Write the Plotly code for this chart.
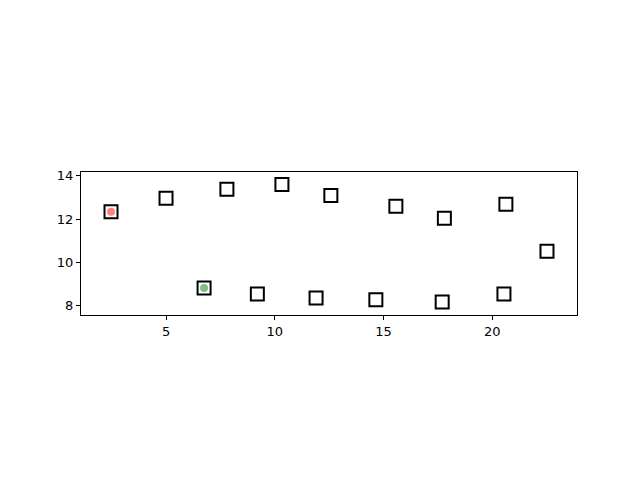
import plotly.graph_objects as go

xs = [2.47, 5.0, 7.8, 10.33, 12.58, 15.57, 17.8, 20.63, 22.52, 6.75, 9.2, 11.9, 14.65, 17.7, 20.54]
ys = [12.34, 12.97, 13.38, 13.6, 13.1, 12.6, 12.05, 12.69, 10.52, 8.83, 8.55, 8.37, 8.28, 8.18, 8.55]
red_x = [2.47]
red_y = [12.34]
green_x = [6.75]
green_y = [8.83]

fig = go.Figure()
fig.add_trace(go.Scatter(x=xs, y=ys, mode="markers",
                         marker=dict(symbol="square-open", size=13, color="black",
                                     line=dict(width=2, color="black"))))
fig.add_trace(go.Scatter(x=red_x, y=red_y, mode="markers",
                         marker=dict(symbol="circle", size=8, color="rgba(255,0,0,0.5)",
                                     line=dict(width=0))))
fig.add_trace(go.Scatter(x=green_x, y=green_y, mode="markers",
                         marker=dict(symbol="circle", size=8, color="rgba(0,128,0,0.5)",
                                     line=dict(width=0))))

axis_common = dict(showgrid=False, zeroline=False, showline=True, linecolor="black",
                   linewidth=1, mirror=True, ticks="outside", ticklen=4, tickwidth=1,
                   tickcolor="black", tickfont=dict(family="DejaVu Sans", size=13, color="black"))
fig.update_layout(
    width=640, height=480, showlegend=False,
    plot_bgcolor="white", paper_bgcolor="white",
    margin=dict(l=73, r=71, t=164, b=173),
    xaxis=dict(range=[1.09, 23.9], tickvals=[5, 10, 15, 20], **axis_common),
    yaxis=dict(range=[7.58, 14.18], tickvals=[8, 10, 12, 14], **axis_common),
)
fig.write_html("out.html")
